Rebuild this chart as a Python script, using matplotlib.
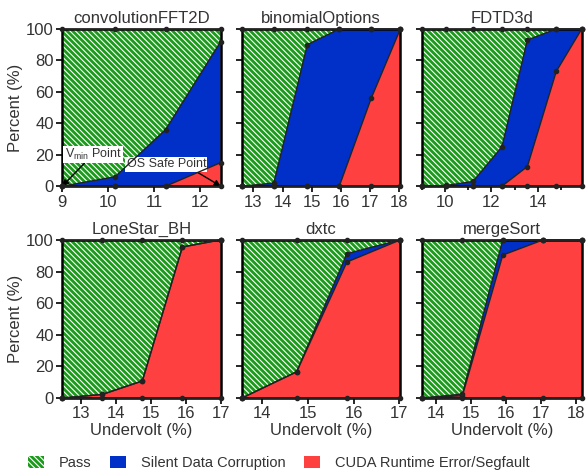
import numpy as np
import matplotlib.pyplot as plt
from matplotlib.patches import Patch

plt.rcParams['font.family'] = ['Liberation Sans', 'DejaVu Sans']
plt.rcParams['hatch.color'] = 'white'
plt.rcParams['hatch.linewidth'] = 0.8

green = '#1b9a1b'
blue = '#0030c8'
red = '#ff4040'
hatch = '\\' * 6

names = ['convolutionFFT2D', 'binomialOptions', 'FDTD3d',
         'LoneStar_BH', 'dxtc', 'mergeSort']

# undervolt levels per benchmark (%)
x_conv = [9.0, 10.15, 11.25, 12.45]
x_binom = [12.6, 13.7, 14.85, 15.95, 17.05, 18.05]
x_fdtd = [9.0, 10.05, 11.2, 12.45, 13.55, 14.8, 15.9]
x_lone = [12.45, 13.6, 14.75, 15.9, 17.0]
x_dxtc = [13.55, 14.75, 15.85, 17.02]
x_merge = [13.6, 14.75, 15.9, 17.05, 18.15]

# CUDA runtime error / segfault (%)
crash_conv = [0, 0, 0, 15]
crash_binom = [0, 0, 0, 0, 56, 100]
crash_fdtd = [0, 0, 0, 0, 12.5, 73, 100]
crash_lone = [0, 2.3, 10.8, 95.5, 100]
crash_dxtc = [0, 16.6, 86, 100]
crash_merge = [0, 1.5, 90.4, 100, 100]

# silent data corruption (%)
sdc_conv = [0, 6, 36, 77]
sdc_binom = [0, 2, 90, 100, 44, 0]
sdc_fdtd = [0, 0.5, 3, 25, 80.5, 27, 0]
sdc_lone = [0, 0, 0, 0, 0]
sdc_dxtc = [0, 0, 5.3, 0]
sdc_merge = [0, 1, 9.6, 0, 0]

xs = [x_conv, x_binom, x_fdtd, x_lone, x_dxtc, x_merge]
crashes = [crash_conv, crash_binom, crash_fdtd, crash_lone, crash_dxtc, crash_merge]
sdcs = [sdc_conv, sdc_binom, sdc_fdtd, sdc_lone, sdc_dxtc, sdc_merge]

xticks = [[9, 10, 11, 12], [13, 14, 15, 16, 17, 18], [10, 12, 14],
          [13, 14, 15, 16, 17], [14, 15, 16, 17], [14, 15, 16, 17, 18]]

fig = plt.figure(figsize=(5.87, 4.75), dpi=100)
pos = [[0.106, 0.608, 0.270, 0.331], [0.412, 0.608, 0.270, 0.331], [0.719, 0.608, 0.272, 0.331],
       [0.106, 0.162, 0.270, 0.333], [0.412, 0.162, 0.270, 0.333], [0.719, 0.162, 0.272, 0.333]]

txt = '#333333'
for i in range(6):
    ax = fig.add_axes(pos[i])
    x = np.array(xs[i])
    c = np.array(crashes[i])
    s = c + np.array(sdcs[i])
    top = np.full(len(x), 100.0)
    zero = np.zeros(len(x))
    ax.fill_between(x, s, top, facecolor=green, edgecolor='white', hatch=hatch, linewidth=0)
    ax.fill_between(x, c, s, facecolor=blue, linewidth=0)
    ax.fill_between(x, zero, c, facecolor=red, linewidth=0)
    for yy in [zero, c, s, top]:
        ax.plot(x, yy, color='#222222', lw=1, marker='o', ms=3, clip_on=False, zorder=5)
    ax.set_xlim(x[0], x[-1])
    ax.set_ylim(0, 100)
    ax.set_title(names[i], fontsize=12, pad=4, color=txt)
    ax.set_xticks(xticks[i])
    ax.set_yticks([0, 20, 40, 60, 80, 100])
    if i == 2:
        ax.set_xticks([9, 11, 13, 15], minor=True)
    if i % 3 == 0:
        ax.set_ylabel('Percent (%)', fontsize=12, color=txt, labelpad=2)
    else:
        ax.set_yticklabels([])
    if i >= 3:
        ax.set_xlabel('Undervolt (%)', fontsize=12, color=txt, labelpad=1)
    ax.tick_params(labelsize=12, labelcolor=txt, length=4, width=1.2, pad=2)
    ax.tick_params(which='minor', length=3, width=1.2)
    for sp in ax.spines.values():
        sp.set_linewidth(1.8)
    if i == 0:
        ax.annotate('V$_{\\mathregular{min}}$ Point', xy=(9.0, 0), xytext=(9.05, 18),
                    fontsize=9, color=txt,
                    bbox=dict(boxstyle='square,pad=0.1', fc='white', ec='none'),
                    arrowprops=dict(arrowstyle='-|>', color='black', lw=1, shrinkA=0, shrinkB=0))
        ax.annotate('OS Safe Point', xy=(12.45, 0), xytext=(10.4, 12),
                    fontsize=9, color=txt,
                    bbox=dict(boxstyle='square,pad=0.1', fc='white', ec='none'),
                    arrowprops=dict(arrowstyle='-|>', color='black', lw=1, shrinkA=0, shrinkB=0,
                                    relpos=(0.85, 0)))

handles = [Patch(facecolor=green, edgecolor='white', hatch=hatch, linewidth=0, label='Pass'),
           Patch(facecolor=blue, label='Silent Data Corruption'),
           Patch(facecolor=red, label='CUDA Runtime Error/Segfault')]
leg = fig.legend(handles=handles, loc='lower center', bbox_to_anchor=(0.475, -0.018), ncol=3,
                 frameon=False, fontsize=10.5, handlelength=1.1, handleheight=0.9,
                 columnspacing=1.3, handletextpad=1.0)
for t in leg.get_texts():
    t.set_color(txt)

fig.savefig('out.png', dpi=100)
